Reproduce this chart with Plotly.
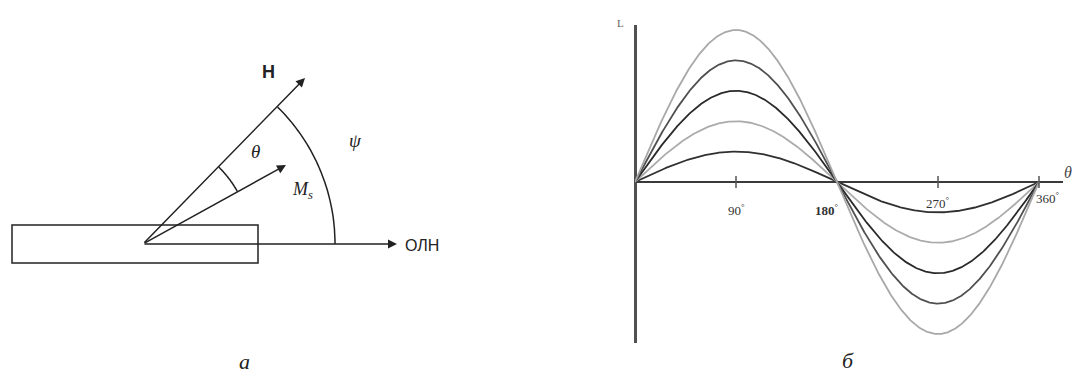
import numpy as np
import plotly.graph_objects as go

W, H = 1072, 378

# Family of curves L(φ) = A·sin φ, one per amplitude
amplitudes = [1, 2, 3, 4, 5]
curve_colors = ["#303030", "#ababab", "#2a2a2a", "#505050", "#a8a8a8"]
angle_ticks = [90, 180, 270, 360]
tick_labels = ["90", "180", "270", "360"]

phi = np.linspace(0, 360, 721)

fig = go.Figure()

for amp, col in zip(amplitudes, curve_colors):
    fig.add_trace(go.Scatter(
        x=phi, y=amp * np.sin(np.radians(phi)),
        mode="lines", line=dict(color=col, width=1.8),
        xaxis="x2", yaxis="y2", hoverinfo="skip", showlegend=False))

# small tick marks on the φ axis
tx, ty = [], []
for t in angle_ticks:
    if t == 180:
        continue
    tx += [t, t, None]
    ty += [-0.2, 0.2, None]
fig.add_trace(go.Scatter(x=tx, y=ty, mode="lines",
                         line=dict(color="#555555", width=1.5),
                         xaxis="x2", yaxis="y2", hoverinfo="skip", showlegend=False))

serif = "Liberation Serif, Times New Roman, serif"
sans = "Liberation Sans, Arial, sans-serif"
ink = "#222222"

annotations = []
label_offsets = {90: (0, -28), 180: (-10, -28), 270: (0, -21), 360: (9, -16)}
for t, lab in zip(angle_ticks, tick_labels):
    dx, dy = label_offsets[t]
    txt = lab + "<sup>°</sup>"
    if t == 180:
        txt = "<b>" + lab + "</b><sup>°</sup>"
    annotations.append(dict(
        x=t, y=0, xref="x2", yref="y2", xshift=dx, yshift=dy,
        text=txt, showarrow=False,
        font=dict(family=serif, size=13, color="#333333")))

annotations.append(dict(x=0, y=1, xref="x2", yref="y2 domain", xshift=-15, yshift=10,
                        text="L", showarrow=False,
                        font=dict(family=serif, size=11, color="#666666")))
annotations.append(dict(x=1, y=0, xref="x2 domain", yref="y2", xshift=11, yshift=10,
                        text="<i>θ</i>", showarrow=False,
                        font=dict(family=serif, size=16, color="#444444")))

# ---- left diagram, drawn on a pixel canvas ----
ox, oy = 143, 244          # common origin of the vectors
shapes = [dict(type="rect", xref="x", yref="y", x0=12, y0=225, x1=258, y1=263,
               line=dict(color=ink, width=1.5))]


def arc_path(r, a0, a1, n=40):
    pts = []
    for a in np.linspace(np.radians(a0), np.radians(a1), n):
        pts.append((ox + r * np.cos(a), oy - r * np.sin(a)))
    return "M " + " L ".join(f"{x:.1f},{y:.1f}" for x, y in pts)


ang_H, ang_M = 45.5, 29.0
shapes.append(dict(type="path", xref="x", yref="y", path=arc_path(108, ang_M, ang_H),
                   line=dict(color=ink, width=1.5)))
shapes.append(dict(type="path", xref="x", yref="y", path=arc_path(192, 0, ang_H),
                   line=dict(color=ink, width=1.5)))

for hx, hy in [(305, 78), (286, 165), (397, 244)]:
    annotations.append(dict(x=hx, y=hy, xref="x", yref="y", ax=ox, ay=oy,
                            axref="x", ayref="y", text="", showarrow=True,
                            arrowhead=2, arrowsize=1.2, arrowwidth=1.5,
                            arrowcolor=ink, standoff=0, startstandoff=0))

annotations += [
    dict(x=268, y=72, xref="x", yref="y", text="<b>H</b>", showarrow=False,
         font=dict(family=sans, size=18, color=ink)),
    dict(x=255, y=151, xref="x", yref="y", text="<i>θ</i>", showarrow=False,
         font=dict(family=serif, size=19, color=ink)),
    dict(x=355, y=140, xref="x", yref="y", text="<i>ψ</i>", showarrow=False,
         font=dict(family=serif, size=19, color=ink)),
    dict(x=302, y=190, xref="x", yref="y", text="<i>M<sub>s</sub></i>", showarrow=False,
         font=dict(family=serif, size=18, color=ink)),
    dict(x=403, y=245, xref="x", yref="y", text="ОЛН", showarrow=False, xanchor="left",
         font=dict(family=sans, size=16, color=ink)),
    dict(x=244, y=361, xref="x", yref="y", text="<i>a</i>", showarrow=False,
         font=dict(family=serif, size=22, color=ink)),
    dict(x=848, y=360, xref="x", yref="y", text="<i>б</i>", showarrow=False,
         font=dict(family=serif, size=22, color=ink)),
]

px_per_deg = (1039 - 635) / 360
px_per_unit = 30.4
fig.update_layout(
    width=W, height=H, margin=dict(l=0, r=0, t=0, b=0),
    paper_bgcolor="white", plot_bgcolor="rgba(0,0,0,0)",
    xaxis=dict(domain=[0, 1], range=[0, W], visible=False, fixedrange=True),
    yaxis=dict(domain=[0, 1], range=[H, 0], visible=False, fixedrange=True),
    xaxis2=dict(domain=[635 / W, 1063 / W], range=[0, (1063 - 635) / px_per_deg],
                anchor="y2", showgrid=False, showticklabels=False, ticks="",
                zeroline=True, zerolinecolor="#505050", zerolinewidth=3, showline=False),
    yaxis2=dict(domain=[(H - 343) / H, (H - 25) / H],
                range=[-(343 - 182) / px_per_unit, (182 - 25) / px_per_unit],
                anchor="x2", showgrid=False, showticklabels=False, ticks="",
                zeroline=True, zerolinecolor="#3a3a3a", zerolinewidth=2, showline=False),
    shapes=shapes, annotations=annotations, showlegend=False,
)

fig.write_html("out.html")
